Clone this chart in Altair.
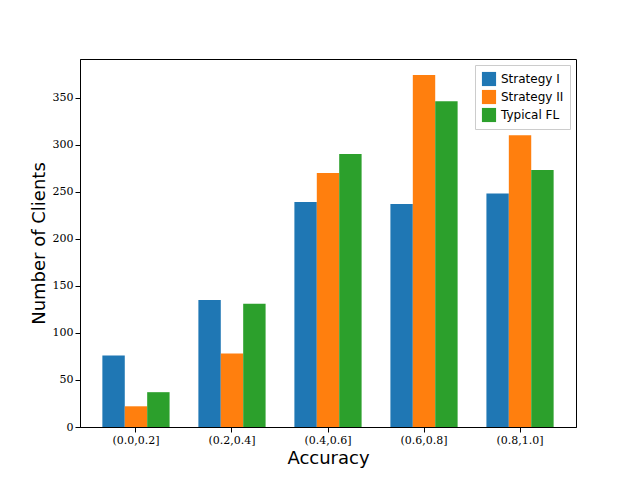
import altair as alt
import pandas as pd

bins = ["(0.0,0.2]", "(0.2,0.4]", "(0.4,0.6]", "(0.6,0.8]", "(0.8,1.0]"]
strategies = ["Strategy I", "Strategy II", "Typical FL"]
strategy_1 = [76, 135, 239, 237, 248]
strategy_2 = [22, 78, 270, 374, 310]
typical_fl = [37, 131, 290, 346, 273]

rows = []
for name, vals in zip(strategies, [strategy_1, strategy_2, typical_fl]):
    for b, v in zip(bins, vals):
        rows.append({"bin": b, "strategy": name, "count": v})
df = pd.DataFrame(rows)

chart = (
    alt.Chart(df)
    .mark_bar()
    .encode(
        x=alt.X("bin:N", sort=bins, title="Accuracy",
                scale=alt.Scale(paddingInner=0.3, paddingOuter=0.233),
                axis=alt.Axis(labelAngle=0, titleFontSize=18, titleFontWeight="normal")),
        xOffset=alt.XOffset("strategy:N", sort=strategies),
        y=alt.Y("count:Q", title="Number of Clients",
                scale=alt.Scale(domain=[0, 391], nice=False),
                axis=alt.Axis(values=list(range(0, 400, 50)), grid=False,
                              titleFontSize=18, titleFontWeight="normal")),
        color=alt.Color("strategy:N", sort=strategies, title=None,
                        scale=alt.Scale(domain=strategies,
                                        range=["#1f77b4", "#ff7f0e", "#2ca02c"]),
                        legend=alt.Legend(orient="top-right", symbolType="square",
                                          symbolSize=200, labelFontSize=12,
                                          strokeColor="#cccccc", padding=6,
                                          fillColor="white", offset=6)),
    )
    .properties(width=496, height=368,
                autosize=alt.AutoSizeParams(type="none"),
                padding={"left": 72, "top": 51, "right": 56, "bottom": 45})
    .configure_axis(labelFont="DejaVu Serif", titleFont="DejaVu Sans",
                    labelFontSize=11, labelColor="black", titleColor="black",
                    domainColor="black", tickColor="black")
    .configure_legend(labelFont="DejaVu Sans")
    .configure_view(stroke="black")
)

chart.save("out.html", embed_options={"renderer": "svg", "actions": False})
